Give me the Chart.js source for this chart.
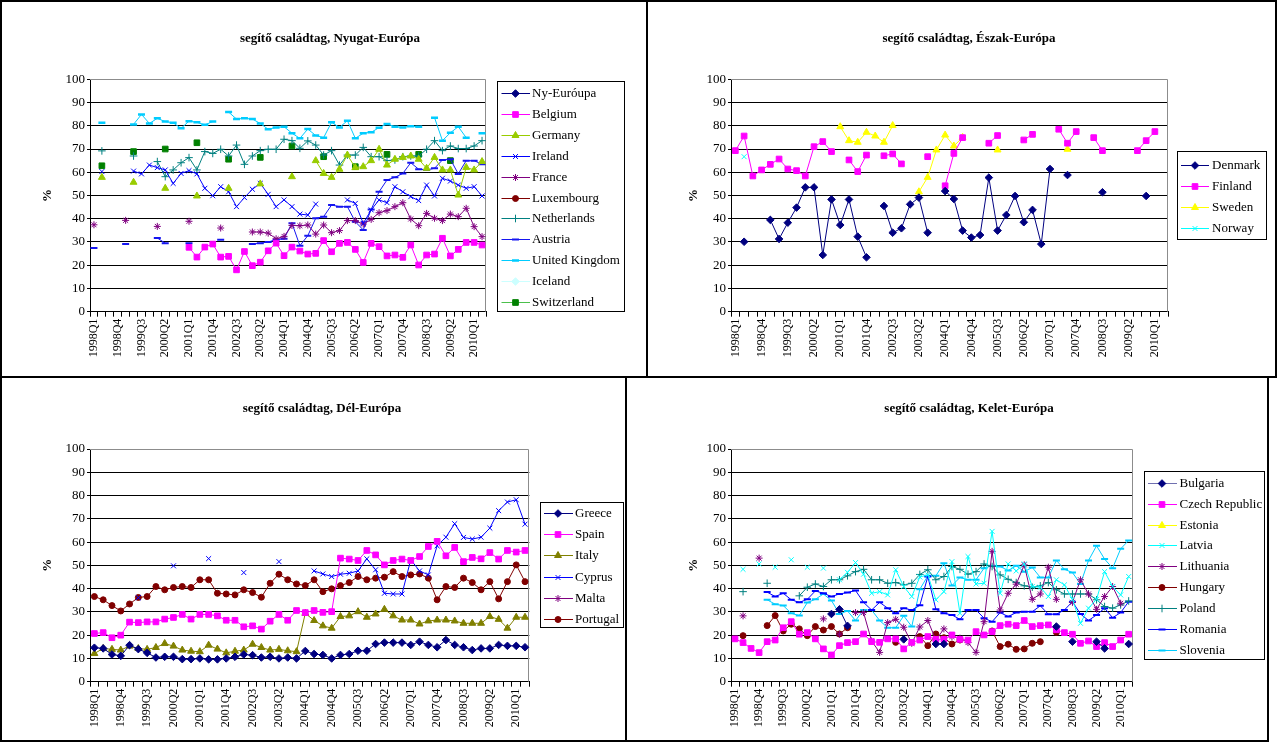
<!DOCTYPE html>
<html>
<head>
<meta charset="utf-8">
<script src="https://cdn.jsdelivr.net/npm/chart.js@4.4.1/dist/chart.umd.min.js"></script>
<style>
  body { margin: 0; background: #fff; }
  #page { position: relative; width: 1277px; height: 742px; overflow: hidden; background: #fff; }
  canvas { position: absolute; }
  .title { position: absolute; width: 400px; text-align: center; font: bold 13px "Liberation Serif", "Times New Roman", serif; line-height: 16px; color: #000; }
  .rule { position: absolute; background: #000; }
</style>
</head>
<body>
<div id="page">
  <canvas id="c1"></canvas>
  <canvas id="c2"></canvas>
  <canvas id="c3"></canvas>
  <canvas id="c4"></canvas>
  <div class="title" style="left:130px;top:30px;">segítő családtag, Nyugat-Európa</div>
  <div class="title" style="left:769px;top:30px;">segítő családtag, Észak-Európa</div>
  <div class="title" style="left:122px;top:400px;">segítő családtag, Dél-Európa</div>
  <div class="title" style="left:769px;top:400px;">segítő családtag, Kelet-Európa</div>
  <!-- table rules: the two rows are split at different places -->
  <div class="rule" style="left:0;top:0;width:1277px;height:2px;"></div>
  <div class="rule" style="left:0;top:0;width:2px;height:742px;"></div>
  <div class="rule" style="left:1275px;top:0;width:2px;height:378px;"></div>
  <div class="rule" style="left:646px;top:0;width:2px;height:378px;"></div>
  <div class="rule" style="left:0;top:376px;width:1277px;height:2px;"></div>
  <div class="rule" style="left:625px;top:376px;width:2px;height:366px;"></div>
  <div class="rule" style="left:1267px;top:376px;width:2px;height:366px;"></div>
  <div class="rule" style="left:0;top:740px;width:1269px;height:2px;"></div>
</div>
<script>
const N = null;

const quarters = [
  "1998Q1","1998Q2","1998Q3","1998Q4","1999Q1","1999Q2","1999Q3","1999Q4","2000Q1","2000Q2",
  "2000Q3","2000Q4","2001Q1","2001Q2","2001Q3","2001Q4","2002Q1","2002Q2","2002Q3","2002Q4",
  "2003Q1","2003Q2","2003Q3","2003Q4","2004Q1","2004Q2","2004Q3","2004Q4","2005Q1","2005Q2",
  "2005Q3","2005Q4","2006Q1","2006Q2","2006Q3","2006Q4","2007Q1","2007Q2","2007Q3","2007Q4",
  "2008Q1","2008Q2","2008Q3","2008Q4","2009Q1","2009Q2","2009Q3","2009Q4","2010Q1","2010Q2"
];
const yTicks = [0, 10, 20, 30, 40, 50, 60, 70, 80, 90, 100];

// --- Nyugat-Európa ---
const nyEuropa = [N,N,N,N,N,N,N,N,N,N, N,N,N,N,N,N,N,N,N,N, N,N,N,N,N,N,N,N,N,N, N,N,N,N,N,N,N,N,N,N, N,N,N,N,N,N,N,N,N,N];
const belgium = [N,N,N,N,N,N,N,N,N,N, N,N,27.7,23.5,27.8,29.1,23.5,23.8,18.0,25.9,
  19.8,21.3,26.2,29.5,24.1,27.8,26.1,24.8,25.1,30.6, 25.8,29.4,29.8,26.8,21.2,29.4,28.0,24.0,24.4,23.4,
  28.7,20.1,24.4,24.8,31.6,24.0,26.8,29.8,29.8,28.7];
const germany = [N,57.8,N,N,N,55.7,N,N,N,53.1, N,N,N,49.8,N,N,N,53.1,N,N,
  N,55.0,N,N,N,58.1,N,N,65.0,59.5, 57.8,61.3,67.4,62.0,62.4,65.0,69.9,63.1,65.6,66.4,
  67.0,65.6,61.7,66.4,61.0,61.0,50.2,62.1,61.0,64.6];
const ireland = [N,60.3,N,N,N,60.5,59.3,63.1,62.0,61.0, 55.2,59.5,60.7,59.3,53.1,49.9,53.8,51.6,45.2,49.1,
  52.7,55.2,50.5,45.2,48.1,45.2,42.0,41.6,46.3,N, N,N,48.1,46.6,38.0,43.8,48.1,46.9,53.8,51.6,
  49.5,47.8,54.5,49.8,57.4,56.2,54.5,53.1,53.8,49.8];
const france = [37.4,N,N,N,39.3,N,N,N,36.7,N, N,N,38.9,N,N,N,36.0,N,N,N,
  34.3,34.3,33.8,31.4,32.4,37.1,37.0,37.3,33.4,37.3, 34.0,34.9,39.2,39.2,37.7,39.7,42.6,43.5,45.2,46.9,
  39.9,37.0,42.3,40.2,39.2,42.0,40.9,44.5,36.6,32.3];
const luxembourg = [N,N,N,N,N,N,N,N,N,N, N,N,N,N,N,N,N,N,N,N, N,N,N,N,N,N,N,N,N,N, N,N,N,N,N,N,N,N,N,N, N,N,N,N,N,N,N,N,N,N];
const netherlands = [N,69.2,N,N,N,67.0,N,N,64.6,58.1, 61.0,64.1,66.3,61.0,68.9,68.1,69.9,67.0,71.7,63.4,
  67.0,69.3,69.9,69.9,74.2,73.6,70.3,73.5,71.7,67.4, 69.3,63.1,67.4,67.4,70.7,66.7,66.7,65.0,65.3,66.7,
  67.0,67.0,69.9,73.6,69.3,71.3,70.2,70.2,71.3,73.6];
const austria = [27.4,N,N,N,29.1,N,N,N,31.7,29.5, N,N,29.5,N,N,N,31.0,N,N,N,
  29.1,29.5,30.0,31.0,31.4,38.1,28.4,32.7,40.2,40.9, 45.9,45.2,45.2,38.7,35.2,44.0,51.6,56.7,57.8,59.5,
  64.1,61.3,61.0,61.7,65.3,65.6,59.3,65.0,65.0,63.4];
const unitedKingdom = [N,81.3,N,N,N,80.6,84.9,81.0,83.2,81.8, 81.3,78.9,82.0,81.5,80.4,81.8,N,85.9,82.9,83.2,
  82.9,81.0,78.5,79.3,79.6,76.8,74.6,78.6,75.8,74.9, 81.5,79.3,82.2,74.6,76.8,77.2,79.2,80.8,79.6,79.3,
  79.8,79.6,N,83.5,73.6,77.0,79.6,74.9,N,76.8];
const iceland = [N,N,N,N,N,N,N,N,N,N, N,N,N,N,N,N,N,N,N,N, N,N,N,N,N,N,N,N,N,N, N,N,N,N,N,N,N,N,N,N, N,N,N,N,N,N,N,N,N,N];
const switzerland = [N,62.8,N,N,N,68.9,N,N,N,70.0, N,N,N,72.7,N,N,N,65.6,N,N,
  N,66.4,N,N,N,71.3,N,N,N,66.7, N,N,N,62.4,N,N,N,67.7,N,N,
  N,67.7,N,N,N,65.0,N,N,N,N];

// --- Észak-Európa ---
const denmark = [N,30.1,N,N,39.5,31.3,38.3,44.8,53.5,53.5, 24.4,48.3,37.3,48.3,32.3,23.4,N,45.5,34.0,35.9,
  46.2,49.1,34.0,N,51.9,48.5,34.9,31.9,33.0,57.7, 34.9,41.6,49.8,38.5,43.8,29.1,61.4,N,58.8,N,
  N,N,51.4,N,N,N,N,49.8,N,N];
const finland = [69.3,75.6,58.4,61.0,63.4,65.7,61.4,60.7,58.4,71.0, 73.2,68.9,N,65.3,60.3,67.4,N,67.1,67.9,63.6,
  N,N,66.7,N,54.2,68.1,74.9,N,N,72.5, 75.8,N,N,73.9,76.3,N,N,78.5,72.5,77.5,
  N,74.9,69.3,N,N,N,69.3,73.6,77.5,N];
const sweden = [N,N,N,N,N,N,N,N,N,N, N,N,79.6,73.6,72.9,77.2,75.6,72.9,80.1,N,
  N,51.6,57.8,69.6,76.0,71.3,75.0,N,N,N, 69.6,N,N,N,N,N,N,N,69.9,N,
  N,N,N,N,N,N,N,N,N,N];
const norway = [N,66.7,N,N,N,N,N,N,N,N, N,N,N,N,N,N,N,N,N,N, N,N,N,N,N,N,N,N,N,N, N,N,N,N,N,N,N,N,N,N, N,N,N,N,N,N,N,N,N,N];

// --- Dél-Európa ---
const greece = [14.6,14.3,11.7,11.1,15.7,14.0,12.4,10.4,10.7,10.7, 9.7,9.7,10.0,9.6,9.6,10.0,10.7,11.7,11.4,10.4,
  10.7,10.0,10.4,10.0,13.2,11.9,11.5,10.0,11.5,11.9, 13.3,13.3,16.2,16.8,16.8,16.8,15.8,17.2,15.8,14.8,
  17.9,15.8,14.8,13.6,14.3,14.3,15.8,15.4,15.4,14.8];
const spain = [20.7,21.1,18.9,20.0,25.6,25.4,25.7,25.7,26.9,27.6, 28.9,26.9,28.9,28.9,28.3,26.4,26.4,23.6,24.0,22.6,
  26.0,28.9,26.4,30.6,29.7,30.6,29.8,30.1,53.1,52.7, 52.1,56.4,54.5,50.2,52.1,52.7,52.1,53.8,58.1,60.3,
  54.1,57.7,51.6,53.4,52.8,55.5,52.7,56.4,55.7,56.4];
const italy = [12.1,14.3,13.9,13.6,15.3,14.3,13.9,14.7,16.4,15.3, 13.6,13.1,12.9,15.7,14.0,12.4,13.1,13.6,16.1,14.7,
  13.6,13.9,13.3,12.9,29.4,26.3,24.0,23.0,28.0,28.3, 30.1,27.7,29.1,31.1,28.3,26.5,26.5,24.8,26.1,26.5,
  26.5,26.1,25.1,25.1,25.1,28.0,26.8,23.0,27.7,27.7];
const cyprus = [N,N,N,N,N,36.1,N,N,N,49.8, N,N,N,52.9,N,N,N,46.9,N,N,
  N,51.6,N,N,N,47.6,46.3,45.2,46.2,46.6, 47.6,52.8,48.1,38.0,37.7,37.7,52.4,47.6,45.9,58.4,
  62.1,67.9,62.0,61.3,62.1,66.0,73.5,77.2,78.2,67.7];
const malta = [N,N,N,N,N,N,N,N,N,N, N,N,N,N,N,N,N,N,N,N, N,N,N,N,N,N,N,N,N,N, N,N,N,N,N,N,N,N,N,N, N,N,N,N,N,N,N,N,N,N];
const portugal = [36.6,35.2,32.7,30.4,33.4,36.2,36.6,40.9,39.5,40.5, 40.9,40.5,43.8,43.8,38.0,37.7,37.3,39.5,38.3,36.3,
  42.3,46.2,43.8,42.0,41.3,43.8,38.7,39.9,41.3,42.6, 45.2,43.8,44.5,44.9,47.3,45.2,45.9,46.3,44.5,35.2,
  40.9,40.5,44.5,42.6,39.5,43.0,35.6,43.0,50.2,43.0];

// --- Kelet-Európa ---
const bulgaria = [N,N,N,N,N,N,N,N,N,N, N,N,29.1,31.1,24.0,N,N,N,N,N,
  N,18.2,N,N,N,16.2,16.2,N,N,N, N,N,N,N,N,N,N,N,N,N,
  23.7,N,17.2,N,N,17.2,14.3,N,N,16.2];
const czechRepublic = [18.4,16.8,14.3,12.5,17.2,17.9,23.2,25.8,20.4,21.1, 18.4,14.1,11.5,15.5,16.8,17.2,20.5,17.2,16.9,18.4,
  18.4,14.1,16.9,17.9,19.4,18.2,18.2,20.1,18.2,17.9, 21.5,20.1,21.5,24.1,24.7,24.1,26.3,23.7,24.1,24.4,
  22.3,21.1,20.4,16.5,17.5,15.1,16.8,15.1,17.9,20.4];
const estonia = [N,N,N,N,N,N,N,N,N,N, N,N,N,N,N,N,N,N,N,N, N,N,N,N,N,N,N,N,N,N, N,N,N,N,N,N,N,N,N,N, N,N,N,N,N,N,N,N,N,N];
const latvia = [N,48.3,N,50.6,N,49.2,N,52.4,N,49.2, N,48.8,N,43.8,47.0,51.2,46.2,38.0,38.7,37.3,
  48.1,40.9,36.6,45.0,45.9,35.2,38.7,51.6,29.4,53.8, 42.0,42.3,64.6,38.0,50.6,47.6,50.6,40.9,40.6,36.6,
  43.8,41.6,35.4,25.1,31.6,35.4,47.3,40.9,37.3,45.2];
const lithuania = [N,28.3,N,53.1,N,N,N,N,N,N, N,27.0,N,20.4,N,29.7,29.7,17.5,12.6,25.4,
  26.8,23.4,16.5,23.5,26.3,17.9,22.7,19.4,18.7,16.8, 12.6,25.8,56.0,30.8,38.0,41.9,50.2,35.4,37.7,49.2,
  35.4,N,34.1,43.8,37.7,31.1,36.6,40.9,33.7,N];
const hungary = [N,19.8,N,N,24.1,28.4,21.8,24.7,22.7,19.8, 23.7,22.2,23.7,20.5,23.2,N,N,N,N,N,
  16.9,N,N,19.4,15.5,20.5,18.9,16.2,17.9,N, N,N,21.8,15.1,16.1,13.9,14.1,16.5,17.2,N,
  21.2,N,N,N,N,N,N,N,N,N];
const poland = [N,38.7,N,N,42.3,N,N,N,36.9,40.6, 42.0,40.9,43.8,43.8,45.5,47.3,48.3,43.8,43.8,42.3,
  42.6,41.6,42.3,46.1,48.1,43.8,45.2,49.5,48.3,46.2, 47.3,50.6,49.5,45.9,44.0,42.6,41.2,40.6,41.2,42.6,
  39.5,37.7,37.7,37.7,37.7,35.2,32.3,31.6,33.0,34.7];
const romania = [N,N,N,N,38.5,36.6,38.0,35.2,34.1,35.4, 39.0,38.0,36.6,37.7,38.3,39.2,34.1,30.8,34.1,31.6,
  29.4,31.6,30.8,32.8,45.2,31.1,29.4,28.7,26.8,30.8, 30.8,27.3,25.8,29.7,28.0,29.7,30.1,30.1,32.6,29.0,
  29.0,30.8,34.4,29.1,26.3,28.7,31.6,27.5,29.7,34.4];
const slovenia = [N,N,N,N,35.2,33.3,32.7,29.4,28.4,34.0, 35.4,37.7,34.9,29.1,30.4,26.3,30.8,30.8,26.3,23.2,
  23.2,28.3,23.7,39.7,45.5,45.5,50.9,41.3,44.8,43.8, 43.8,48.8,49.8,49.5,47.8,49.8,47.3,49.1,44.8,44.8,
  52.1,48.3,46.9,42.0,52.1,58.4,52.7,48.8,57.1,60.7];

Chart.defaults.font.family = '"Liberation Serif", "Times New Roman", serif';
Chart.defaults.color = '#000';

const markerSize = { rect: 4, rectRot: 3.8, triangle: 4, crossRot: 3.5, star: 3.5, cross: 3.8, circle: 3, line: 3.5 };

function series(label, data, color, style, extra) {
  return Object.assign({
    label: label,
    data: data,
    borderColor: color,
    backgroundColor: color,
    pointBackgroundColor: color,
    pointBorderColor: color,
    pointStyle: style,
    pointRadius: markerSize[style],
    pointHoverRadius: markerSize[style],
    pointBorderWidth: 1,
    borderWidth: 1,
    tension: 0,
    spanGaps: false,
    fill: false
  }, extra || {});
}

// legend box with line + marker per series, like the spreadsheet legend
const boxLegend = {
  id: 'boxLegend',
  afterDraw(chart, args, o) {
    const ctx = chart.ctx;
    ctx.save();
    ctx.strokeStyle = '#000';
    ctx.lineWidth = 1;
    ctx.strokeRect(o.x + 0.5, o.y + 0.5, o.w, o.h);
    ctx.font = '13px "Liberation Serif", "Times New Roman", serif';
    ctx.textBaseline = 'middle';
    ctx.textAlign = 'left';
    chart.data.datasets.forEach((d, i) => {
      const y = Math.round(o.y0 + i * o.dy) + 0.5;
      ctx.strokeStyle = d.legendLine || d.borderColor;
      ctx.lineWidth = 1;
      ctx.beginPath();
      ctx.moveTo(o.lx0, y);
      ctx.lineTo(o.lx1, y);
      ctx.stroke();
      ctx.fillStyle = d.pointBackgroundColor;
      ctx.strokeStyle = d.pointBorderColor;
      ctx.lineWidth = d.pointBorderWidth;
      if (Chart.helpers && Chart.helpers.drawPoint) {
        Chart.helpers.drawPoint(ctx, { pointStyle: d.pointStyle, radius: d.pointRadius, borderWidth: d.pointBorderWidth, rotation: 0 }, o.mx, y);
      } else {
        ctx.fillRect(o.mx - 3, y - 3, 6, 6);
      }
      ctx.fillStyle = '#000';
      ctx.fillText(d.label, o.tx, y);
    });
    ctx.restore();
  }
};

// grey top and right edges of the plot area
const frame = {
  id: 'frame',
  beforeDatasetsDraw(chart) {
    const a = chart.chartArea;
    const ctx = chart.ctx;
    ctx.save();
    ctx.strokeStyle = '#8c8c8c';
    ctx.lineWidth = 1;
    ctx.beginPath();
    ctx.moveTo(a.left, Math.round(a.top) + 0.5);
    ctx.lineTo(Math.round(a.right) - 0.5, Math.round(a.top) + 0.5);
    ctx.lineTo(Math.round(a.right) - 0.5, a.bottom);
    ctx.stroke();
    ctx.restore();
  }
};

function makeChart(id, cfg) {
  const cv = document.getElementById(id);
  cv.width = cfg.w;
  cv.height = cfg.h;
  cv.style.left = cfg.ox + 'px';
  cv.style.top = cfg.oy + 'px';
  cv.style.width = cfg.w + 'px';
  cv.style.height = cfg.h + 'px';
  const yw = 52;
  const plotL = cfg.plot.l - cfg.ox, plotR = cfg.plot.r - cfg.ox;
  const plotT = cfg.plot.t - cfg.oy, plotB = cfg.plot.b - cfg.oy;
  const lg = cfg.legend;
  // y title "%" sits at a fixed page x
  const ytPad = cfg.yTitleX - cfg.ox - (plotL - yw) - 7.8;
  return new Chart(cv, {
    type: 'line',
    data: { labels: quarters, datasets: cfg.datasets },
    options: {
      responsive: false,
      animation: false,
      devicePixelRatio: 1,
      events: [],
      layout: { padding: { left: plotL - yw, right: cfg.w - plotR, top: plotT, bottom: cfg.h - plotB - cfg.xh } },
      plugins: {
        legend: { display: false },
        tooltip: { enabled: false },
        title: { display: false },
        boxLegend: {
          x: lg.x - cfg.ox, y: lg.y - cfg.oy, w: lg.w, h: lg.h,
          y0: lg.y0 - cfg.oy, dy: lg.dy,
          lx0: lg.lx0 - cfg.ox, lx1: lg.lx1 - cfg.ox, mx: lg.mx - cfg.ox, tx: lg.tx - cfg.ox
        }
      },
      scales: {
        x: {
          type: 'category',
          offset: true,
          grid: { offset: true, drawOnChartArea: false, drawTicks: true, tickLength: 5, color: '#000' },
          border: { color: '#000', width: 1 },
          ticks: {
            autoSkip: false, maxRotation: 90, minRotation: 90, padding: 2,
            font: { size: 12 }, color: '#000',
            callback: (v, i) => (i % 3 === 0 ? quarters[i] : '')
          },
          afterFit: s => { s.height = cfg.xh; }
        },
        y: {
          min: 0, max: 100,
          afterBuildTicks: s => { s.ticks = yTicks.map(v => ({ value: v })); },
          ticks: { font: { size: 13 }, color: '#000', padding: 2 },
          grid: {
            color: c => (c.tick && c.tick.value === 100 ? 'rgba(0,0,0,0)' : '#000'),
            tickLength: 3, tickColor: '#000'
          },
          border: { color: '#000', width: 1 },
          title: { display: true, text: '%', font: { size: 13, weight: 'bold' }, padding: { top: ytPad, bottom: 0 } },
          afterFit: s => { s.width = yw; }
        }
      }
    },
    plugins: [boxLegend, frame]
  });
}

makeChart('c1', {
  ox: 2, oy: 2, w: 644, h: 374, xh: 60, yTitleX: 48,
  plot: { l: 90, r: 486, t: 79.3, b: 311.7 },
  legend: { x: 497, y: 81, w: 127, h: 230, y0: 92.7, dy: 20.96, lx0: 501.5, lx1: 530, mx: 515.5, tx: 532 },
  datasets: [
    series('Ny-Euróupa', nyEuropa, '#000080', 'rectRot'),
    series('Belgium', belgium, '#FF00FF', 'rect'),
    series('Germany', germany, '#99CC00', 'triangle'),
    series('Ireland', ireland, '#0000FF', 'crossRot'),
    series('France', france, '#800080', 'star'),
    series('Luxembourg', luxembourg, '#800000', 'circle'),
    series('Netherlands', netherlands, '#008080', 'cross'),
    series('Austria', austria, '#1515F0', 'line', { pointBorderWidth: 2 }),
    series('United Kingdom', unitedKingdom, '#00CCFF', 'line', { pointBorderWidth: 2.5 }),
    series('Iceland', iceland, '#CCFFFF', 'rectRot'),
    series('Switzerland', switzerland, '#008000', 'rect', { legendLine: '#4CC04C' })
  ]
});

makeChart('c2', {
  ox: 648, oy: 2, w: 627, h: 374, xh: 60, yTitleX: 694,
  plot: { l: 731, r: 1168, t: 79.3, b: 311.7 },
  legend: { x: 1177, y: 151, w: 89, h: 88, y0: 165, dy: 21, lx0: 1181, lx1: 1209, mx: 1195, tx: 1212 },
  datasets: [
    series('Denmark', denmark, '#000080', 'rectRot'),
    series('Finland', finland, '#FF00FF', 'rect'),
    series('Sweden', sweden, '#FFFF00', 'triangle'),
    series('Norway', norway, '#00FFFF', 'crossRot')
  ]
});

makeChart('c3', {
  ox: 2, oy: 378, w: 623, h: 362, xh: 56, yTitleX: 48,
  plot: { l: 90, r: 529.4, t: 449, b: 681.7 },
  legend: { x: 540, y: 502, w: 83, h: 125, y0: 513.3, dy: 21.1, lx0: 544, lx1: 573, mx: 558, tx: 575 },
  datasets: [
    series('Greece', greece, '#000080', 'rectRot'),
    series('Spain', spain, '#FF00FF', 'rect'),
    series('Italy', italy, '#808000', 'triangle'),
    series('Cyprus', cyprus, '#0000FF', 'crossRot'),
    series('Malta', malta, '#800080', 'star'),
    series('Portugal', portugal, '#800000', 'circle')
  ]
});

makeChart('c4', {
  ox: 627, oy: 378, w: 640, h: 362, xh: 56, yTitleX: 694,
  plot: { l: 731, r: 1132.7, t: 449, b: 681.7 },
  legend: { x: 1144, y: 471, w: 120, h: 188, y0: 482.7, dy: 20.9, lx0: 1148, lx1: 1177, mx: 1162, tx: 1179.5 },
  datasets: [
    series('Bulgaria', bulgaria, '#000080', 'rectRot', { legendLine: '#7070B0' }),
    series('Czech Republic', czechRepublic, '#FF00FF', 'rect'),
    series('Estonia', estonia, '#FFFF00', 'triangle'),
    series('Latvia', latvia, '#00FFFF', 'crossRot'),
    series('Lithuania', lithuania, '#800080', 'star'),
    series('Hungary', hungary, '#800000', 'circle'),
    series('Poland', poland, '#008080', 'cross'),
    series('Romania', romania, '#0000FF', 'line', { pointBorderWidth: 2 }),
    series('Slovenia', slovenia, '#00CCFF', 'line', { pointBorderWidth: 2 })
  ]
});
</script>
</body>
</html>
